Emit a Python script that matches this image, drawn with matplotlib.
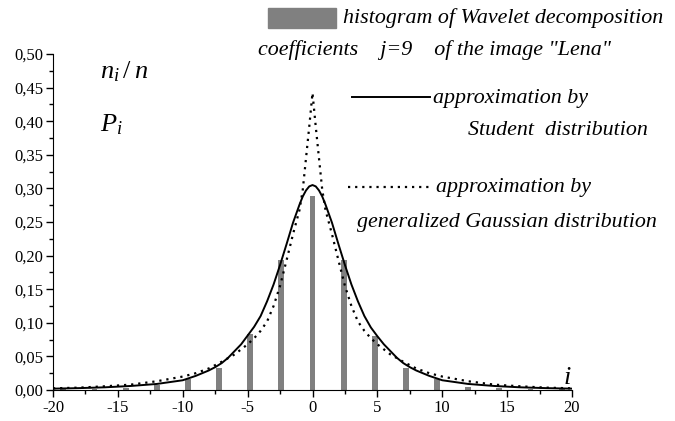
import numpy as np
import matplotlib
matplotlib.use("Agg")
import matplotlib.pyplot as plt
from matplotlib.ticker import FuncFormatter, MultipleLocator
from matplotlib.patches import Rectangle
from matplotlib.lines import Line2D

plt.rcParams['font.family'] = ['Liberation Serif', 'DejaVu Serif']
plt.rcParams['mathtext.fontset'] = 'custom'
plt.rcParams['mathtext.rm'] = 'Liberation Serif'
plt.rcParams['mathtext.it'] = 'Liberation Serif:italic'

# === histogram bars ===
bar_x = [-19.2, -16.8, -14.4, -12.0, -9.6, -7.2, -4.8, -2.4, 0.0,
         2.4, 4.8, 7.2, 9.6, 12.0, 14.4, 16.8, 19.2]
bar_h = [0.001, 0.0015, 0.003, 0.007, 0.016, 0.033, 0.084, 0.194, 0.289,
         0.193, 0.080, 0.032, 0.017, 0.005, 0.003, 0.0015, 0.001]

# === Student approximation ===
stud_x = [-20, -18, -16, -14, -12, -10, -9, -8, -7.5, -7, -6.5, -6, -5.5, -5, -4.5,
          -4, -3.5, -3, -2.5, -2, -1.5, -1, -0.75, -0.5, -0.25, 0,
          0.25, 0.5, 0.75, 1, 1.5, 2, 2.5, 3, 3.5, 4, 4.5, 5, 5.5, 6, 6.5, 7, 7.5, 8, 9,
          10, 12, 14, 16, 18, 20]
stud_y = [0.002, 0.0028, 0.004, 0.006, 0.009, 0.0145, 0.021, 0.029, 0.034, 0.040,
          0.048, 0.058, 0.068, 0.081, 0.094, 0.110, 0.132, 0.157, 0.186, 0.217,
          0.249, 0.276, 0.288, 0.297, 0.303, 0.305,
          0.303, 0.297, 0.288, 0.276, 0.249, 0.217, 0.186, 0.157, 0.132, 0.110, 0.093,
          0.080, 0.068, 0.058, 0.048, 0.040, 0.034, 0.029, 0.021,
          0.0145, 0.009, 0.006, 0.004, 0.0028, 0.002]

# === generalized Gaussian approximation ===
gg_x = [-20, -18, -16, -14, -12, -10, -9, -8, -7, -6, -5, -4.5, -4, -3.5, -3, -2.5,
        -2, -1.5, -1, -0.75, -0.5, -0.25, 0,
        0.25, 0.5, 0.75, 1, 1.5, 2, 2.5, 3, 3.5, 4, 4.5, 5, 6, 7, 8, 9, 10,
        12, 14, 16, 18, 20]
gg_y = [0.0025, 0.0035, 0.0055, 0.008, 0.013, 0.020, 0.025, 0.032, 0.042, 0.053,
        0.068, 0.077, 0.088, 0.102, 0.125, 0.155, 0.193, 0.232, 0.268, 0.298,
        0.345, 0.392, 0.442,
        0.392, 0.345, 0.298, 0.268, 0.232, 0.193, 0.155, 0.125, 0.102, 0.088,
        0.077, 0.068, 0.053, 0.042, 0.032, 0.025, 0.020,
        0.013, 0.008, 0.0055, 0.0035, 0.0025]

W, H = 675, 421
fig = plt.figure(figsize=(W / 100, H / 100), dpi=100)
ax = fig.add_axes([53 / W, 1 - 390 / H, (572 - 53) / W, (390 - 54) / H])

ax.bar(bar_x, bar_h, width=0.45, color='#808080', zorder=1)
ax.plot(stud_x, stud_y, color='black', lw=1.4, zorder=3)
ax.plot(gg_x, gg_y, color='black', lw=1.6, linestyle=(0, (1, 2.2)), zorder=2)

ax.set_xlim(-20, 20)
ax.set_ylim(0, 0.5)
ax.spines['top'].set_visible(False)
ax.spines['right'].set_visible(False)
ax.xaxis.set_major_locator(MultipleLocator(5))
ax.xaxis.set_minor_locator(MultipleLocator(2.5))
ax.yaxis.set_major_locator(MultipleLocator(0.05))
ax.yaxis.set_minor_locator(MultipleLocator(0.025))
ax.yaxis.set_major_formatter(FuncFormatter(lambda v, p: f"{v:.2f}".replace('.', ',')))
ax.xaxis.set_major_formatter(FuncFormatter(lambda v, p: f"{v:.0f}"))
ax.tick_params(which='major', length=5, width=1, labelsize=12, direction='out', pad=2)
ax.tick_params(which='minor', length=3, width=1, direction='out')

# axis letters
fig.text(100 / W, 1 - 72 / H, r"$n_i\,/\;n$", fontsize=19, va='center')
fig.text(100 / W, 1 - 125 / H, r"$P_i$", fontsize=19, va='center')
fig.text(563 / W, 1 - 378 / H, r"$i$", fontsize=19, va='center')

# legend-like annotations
fig.add_artist(Rectangle((268 / W, 1 - 28 / H), 68 / W, 20 / H,
                         transform=fig.transFigure, color='#808080'))
fig.add_artist(Line2D([352 / W, 430 / W], [1 - 97 / H, 1 - 97 / H],
                      transform=fig.transFigure, color='black', lw=1.4))
fig.add_artist(Line2D([348 / W, 432 / W], [1 - 187 / H, 1 - 187 / H],
                      transform=fig.transFigure, color='black', lw=1.6,
                      linestyle=(0, (1, 2.2))))

txt = dict(fontsize=15.8, style='italic', va='center', ha='left')
fig.text(343 / W, 1 - 18 / H, "histogram of Wavelet decomposition", **txt)
fig.text(258 / W, 1 - 50 / H, 'coefficients    j=9    of the image "Lena"', **txt)
fig.text(433 / W, 1 - 98 / H, "approximation by", **txt)
fig.text(468 / W, 1 - 131 / H, "Student  distribution", **txt)
fig.text(436 / W, 1 - 188 / H, "approximation by", **txt)
fig.text(357 / W, 1 - 222 / H, "generalized Gaussian distribution", **txt)

fig.savefig("out.png", dpi=100)
